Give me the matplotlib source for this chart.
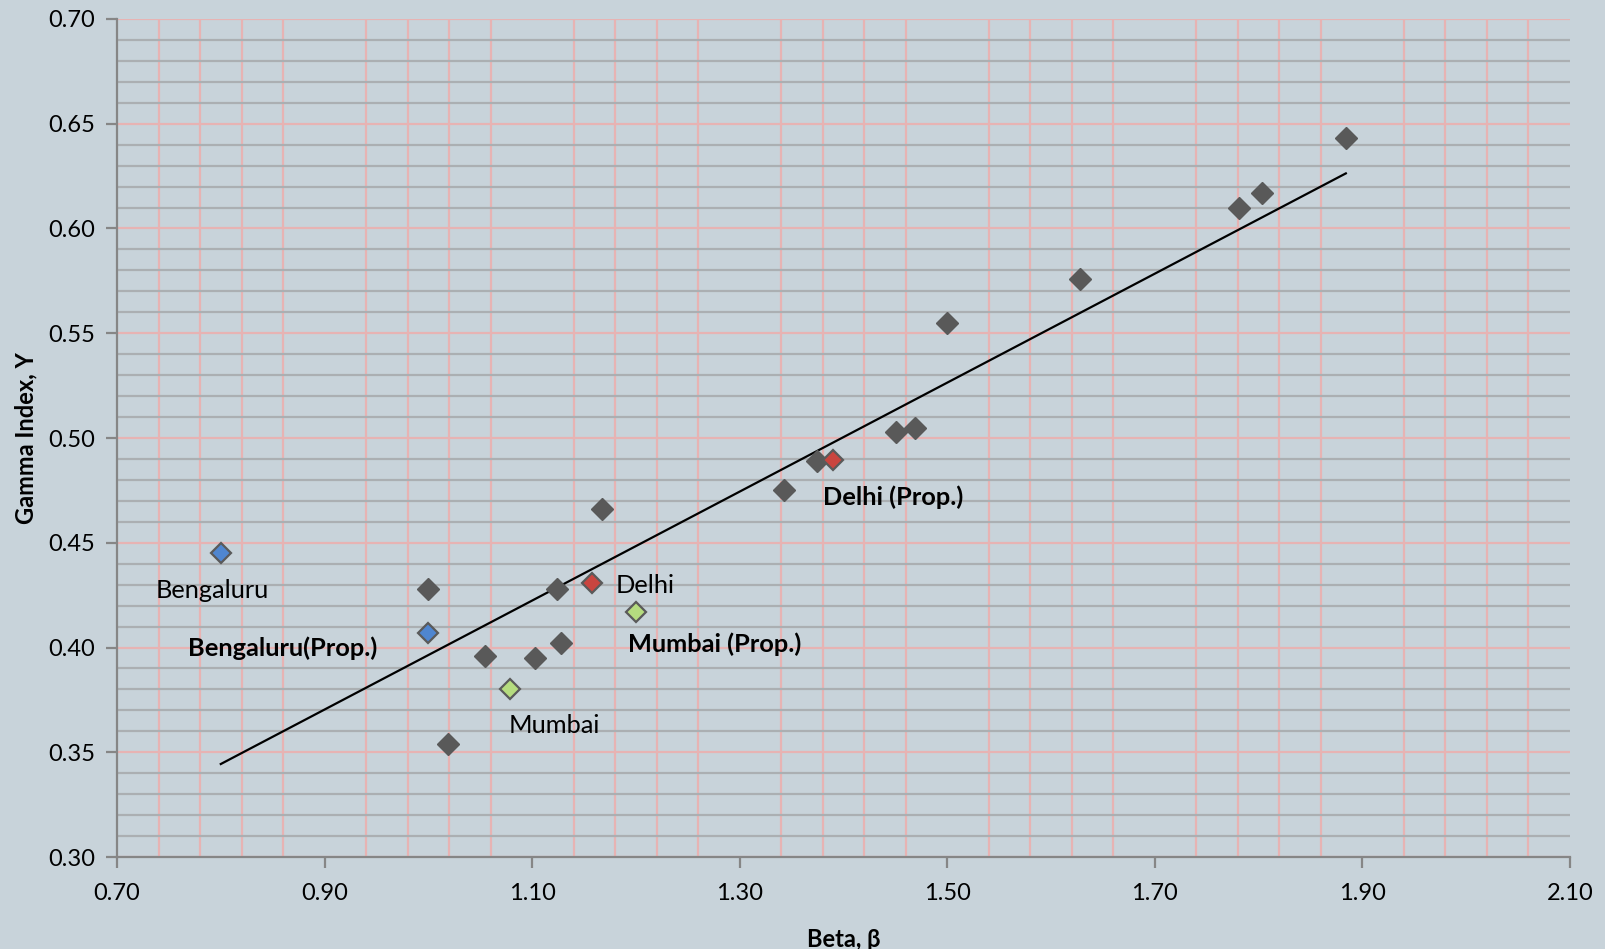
import numpy as np
import matplotlib.pyplot as plt
from matplotlib.ticker import FixedLocator, MultipleLocator, FormatStrFormatter

plt.rcParams['font.family'] = ['Lato', 'Open Sans', 'DejaVu Sans']

# other cities (gray)
beta_other = [1.00, 1.019, 1.055, 1.103, 1.124, 1.128, 1.167, 1.343, 1.374,
              1.451, 1.469, 1.500, 1.628, 1.781, 1.803, 1.884]
gamma_other = [0.428, 0.354, 0.396, 0.395, 0.428, 0.402, 0.466, 0.475, 0.489,
               0.503, 0.505, 0.555, 0.576, 0.610, 0.617, 0.643]

# highlighted cities
city_names = ["Bengaluru", "Bengaluru(Prop.)", "Delhi", "Delhi (Prop.)",
              "Mumbai", "Mumbai (Prop.)"]
city_beta = [0.80, 1.00, 1.158, 1.390, 1.079, 1.200]
city_gamma = [0.445, 0.407, 0.431, 0.4895, 0.380, 0.417]
city_colors = ["#4f86d0", "#4f86d0", "#c9453f", "#c9453f", "#b5dc7f", "#b5dc7f"]
label_offsets = [(-47, -27), (-173, -11), (17, -2), (-7, -27), (-1.5, -26), (-6, -23)]

# trendline
trend_x = [0.80, 1.884]
trend_y = [0.3444, 0.6263]

x_major = np.arange(0.70, 2.101, 0.20)
x_grid = np.arange(0.70, 2.101, 0.04)

bg = "#c8d3da"
fig = plt.figure(figsize=(16.05, 9.49), dpi=100, facecolor=bg)
ax = fig.add_axes([0.0729, 0.0969, 0.9053, 0.8831])
ax.set_facecolor(bg)

ax.set_xlim(0.70, 2.10)
ax.set_ylim(0.30, 0.70)
ax.xaxis.set_major_locator(FixedLocator(x_major))
ax.xaxis.set_minor_locator(FixedLocator(x_grid))
ax.yaxis.set_major_locator(MultipleLocator(0.05))
ax.yaxis.set_minor_locator(MultipleLocator(0.01))
ax.xaxis.set_major_formatter(FormatStrFormatter('%.2f'))
ax.yaxis.set_major_formatter(FormatStrFormatter('%.2f'))

ax.grid(which='minor', axis='y', color='#abafb2', lw=1.6, zorder=0)
ax.grid(which='major', axis='y', color='#e7b3b3', lw=1.6, zorder=0.5)
ax.grid(which='minor', axis='x', color='#e7b3b3', lw=1.6, zorder=0.5)
ax.set_axisbelow(True)

for s in ['top', 'right']:
    ax.spines[s].set_visible(False)
for s in ['left', 'bottom']:
    ax.spines[s].set_color('#868686')
    ax.spines[s].set_linewidth(1.6)
ax.tick_params(which='major', length=8, width=1.6, color='#868686',
               labelsize=17, pad=8)
ax.tick_params(axis='x', which='major', pad=11)
ax.tick_params(which='minor', length=0)

ax.plot(trend_x, trend_y, color='black', lw=1.6, zorder=2)

ax.plot(beta_other, gamma_other, linestyle='none', marker='D', ms=11,
        mfc='#595959', mec='#595959', zorder=3)
for name, bx, gy, c, off in zip(city_names, city_beta, city_gamma,
                                 city_colors, label_offsets):
    ax.plot(bx, gy, linestyle='none', marker='D', ms=10, mfc=c,
            mec='#5a5a5a', mew=1.6, zorder=3)
    ax.annotate(name, (bx, gy), xytext=off, textcoords='offset points',
                fontsize=18.3, fontweight='bold' if 'Prop' in name else 'normal',
                ha='left', va='center', zorder=4)

ax.set_xlabel("Beta, β", fontsize=17, fontweight='bold')
ax.set_ylabel("Gamma Index, Υ", fontsize=17, fontweight='bold')
ax.xaxis.set_label_coords(0.5, -0.085)
ax.yaxis.set_label_coords(-0.055, 0.5)

fig.savefig("out.png", dpi=100, facecolor=bg)
